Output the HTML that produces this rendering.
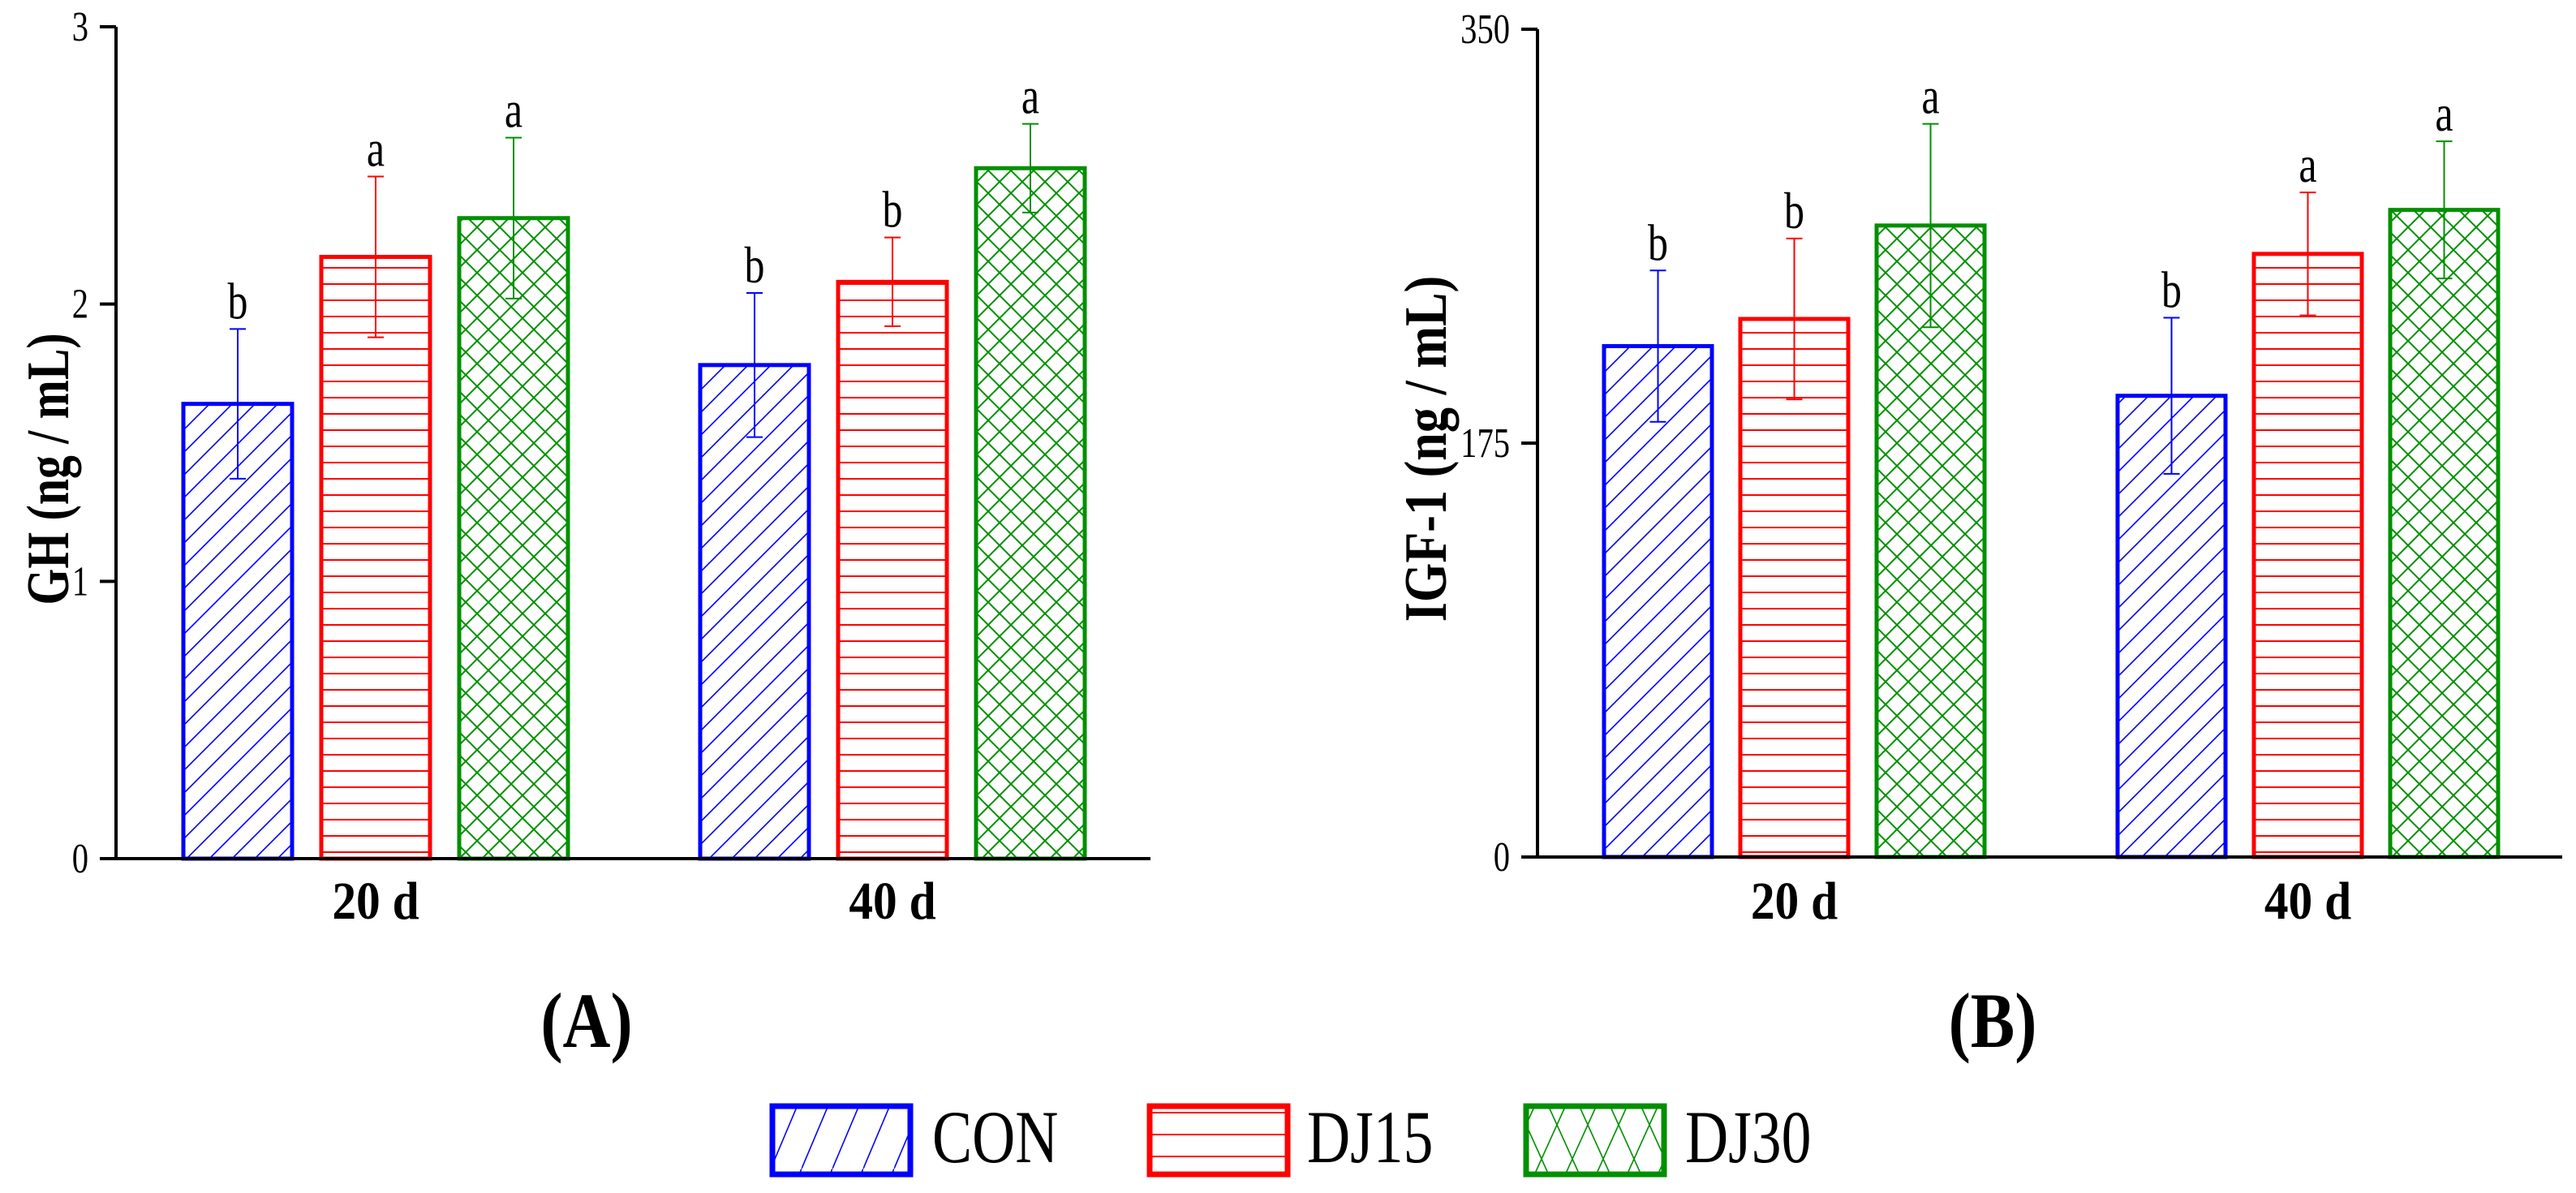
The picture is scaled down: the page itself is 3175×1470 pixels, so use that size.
<!DOCTYPE html>
<html><head><meta charset="utf-8"><style>
html,body{margin:0;padding:0;background:#fff;}
svg{display:block;font-family:"Liberation Serif",serif;}
</style></head><body>
<svg id="fig" width="3175" height="1470" viewBox="0 0 3175 1470" xmlns="http://www.w3.org/2000/svg">
<defs>
<pattern id="pCON" patternUnits="userSpaceOnUse" width="28" height="28">
<path d="M-7,7 L7,-7 M0,28 L28,0 M21,35 L35,21" stroke="#0000ff" stroke-width="1.6"/>
</pattern>
<pattern id="pDJ15" patternUnits="userSpaceOnUse" width="28" height="20">
<line x1="0" y1="10" x2="28" y2="10" stroke="#ff0000" stroke-width="2"/>
</pattern>
<pattern id="pDJ30" patternUnits="userSpaceOnUse" width="28" height="28">
<path d="M-7,7 L7,-7 M0,28 L28,0 M21,35 L35,21 M-7,21 L7,35 M0,0 L28,28 M21,-7 L35,7" stroke="#009000" stroke-width="2"/>
</pattern>
<pattern id="lCON" patternUnits="userSpaceOnUse" width="38" height="90">
<line x1="0" y1="90" x2="38" y2="0" stroke="#0000ff" stroke-width="1.6"/>
</pattern>
<pattern id="lDJ15" patternUnits="userSpaceOnUse" width="40" height="27" y="1370">
<line x1="0" y1="1" x2="40" y2="1" stroke="#ff0000" stroke-width="2"/>
</pattern>
<pattern id="lDJ30" patternUnits="userSpaceOnUse" width="38" height="84">
<path d="M0,0 L38,84 M0,84 L38,0" stroke="#009000" stroke-width="1.6"/>
</pattern>
</defs>
<g id="chartA"></g>
<g id="chartB"></g>
<text transform="translate(723 1290) scale(0.85 1)" font-size="96" font-weight="bold" text-anchor="middle">(A)</text>
<text transform="translate(2456 1290) scale(0.85 1)" font-size="96" font-weight="bold" text-anchor="middle">(B)</text>
<g>
<g>
<rect x="952" y="1363" width="170" height="84" fill="url(#lCON)" stroke="#0000ff" stroke-width="7"/>
<text transform="translate(1149 1432) scale(0.8 1)" font-size="92">CON</text>
</g>
<g>
<rect x="1417" y="1363" width="170" height="84" fill="url(#lDJ15)" stroke="#ff0000" stroke-width="7"/>
<text transform="translate(1611 1432) scale(0.8 1)" font-size="92">DJ15</text>
</g>
<g>
<rect x="1881" y="1363" width="170" height="84" fill="url(#lDJ30)" stroke="#009000" stroke-width="7"/>
<text transform="translate(2077 1432) scale(0.8 1)" font-size="92">DJ30</text>
</g>
</g>
</svg>
<script>
const groups = ["20 d", "40 d"];
const seriesNames = ["CON", "DJ15", "DJ30"];
const ghMeans = [[1.64, 1.78], [2.17, 2.08], [2.31, 2.49]];
const ghErrs = [[0.27, 0.26], [0.29, 0.16], [0.29, 0.16]];
const ghLetters = [["b", "b"], ["a", "b"], ["a", "a"]];
const ghTicks = [0, 1, 2, 3];
const igfMeans = [[216, 195], [227.5, 255], [267, 273.6]];
const igfErrs = [[32, 33], [34, 26], [43, 29]];
const igfLetters = [["b", "b"], ["b", "a"], ["a", "a"]];
const igfTicks = [0, 175, 350];

const NS = "http://www.w3.org/2000/svg";
const colors = ["#0000ff", "#ff0000", "#009000"];
const fills = ["url(#pCON)", "url(#pDJ15)", "url(#pDJ30)"];
function mk(parent, tag, attrs) {
  const e = document.createElementNS(NS, tag);
  for (const k in attrs) e.setAttribute(k, attrs[k]);
  parent.appendChild(e);
  return e;
}
function drawChart(g, cfg) {
  const y = v => cfg.y0 + (v - cfg.min) / (cfg.max - cfg.min) * (cfg.y1 - cfg.y0);
  for (let s = 0; s < seriesNames.length; s++) {
    for (let gi = 0; gi < groups.length; gi++) {
      const x = cfg.groupStart[gi] + s * cfg.step;
      const v = cfg.means[s][gi], e = cfg.errs[s][gi];
      const top = y(v);
      const r = mk(g, "rect", {x: x, y: top, width: cfg.bw, height: cfg.y0 - top, fill: fills[s], stroke: colors[s], "stroke-width": 5});
      
      
      const cx = x + cfg.bw / 2;
      const eb = mk(g, "path", {d: `M${cx},${y(v - e)} L${cx},${y(v + e)} M${cx - 10},${y(v + e)} L${cx + 10},${y(v + e)} M${cx - 10},${y(v - e)} L${cx + 10},${y(v - e)}`, stroke: colors[s], "stroke-width": 2, fill: "none"});
      
      
      const t = mk(g, "text", {transform: `translate(${cx} ${y(v + e) - 13}) scale(0.78 1)`, "font-size": 64, "text-anchor": "middle"});
      t.textContent = cfg.letters[s][gi];
      
      
    }
  }
  const ax = mk(g, "path", {d: `M${cfg.ax},${cfg.y0} L${cfg.ax},${cfg.y1} M${cfg.ax - 20},${cfg.y0} L${cfg.xEnd},${cfg.y0}`, stroke: "#000", "stroke-width": 4, fill: "none"});
  
  
  cfg.ticks.forEach(tv => {
    const ty = y(tv);
    const tk = mk(g, "line", {x1: cfg.ax - 20, y1: ty, x2: cfg.ax, y2: ty, stroke: "#000", "stroke-width": 4});
    
    
    const tl = mk(g, "text", {transform: `translate(${cfg.ax - 34} ${ty + 17}) scale(0.78 1)`, "font-size": 52, "text-anchor": "end"});
    tl.textContent = tv;
    
    
  });
  groups.forEach((gn, gi) => {
    const cx = cfg.groupStart[gi] + (2 * cfg.step + cfg.bw) / 2;
    const t = mk(g, "text", {transform: `translate(${cx} 1132) scale(0.9 1)`, "font-size": 66, "font-weight": "bold", "text-anchor": "middle"});
    t.textContent = gn;
    
    
  });
  const yt = mk(g, "text", {transform: `translate(${cfg.titleX} ${cfg.titleY}) rotate(-90) scale(${cfg.titleSx} 1)`, "font-size": 74, "font-weight": "bold", "text-anchor": "middle"});
  yt.textContent = cfg.title;
  
  
}
drawChart(document.getElementById("chartA"), {
  means: ghMeans, errs: ghErrs, letters: ghLetters, ticks: ghTicks,
  min: 0, max: 3, y0: 1058, y1: 33, ax: 143, xEnd: 1418,
  groupStart: [226, 863], step: 170, bw: 134,
  title: "GH (ng / mL)", titleX: 84, titleY: 578, titleSx: 0.78
});
drawChart(document.getElementById("chartB"), {
  means: igfMeans, errs: igfErrs, letters: igfLetters, ticks: igfTicks,
  min: 0, max: 350, y0: 1056, y1: 36, ax: 1895, xEnd: 3158,
  groupStart: [1977, 2610], step: 168, bw: 133,
  title: "IGF-1 (ng / mL)", titleX: 1782, titleY: 553, titleSx: 0.84
});
</script>
</body></html>
